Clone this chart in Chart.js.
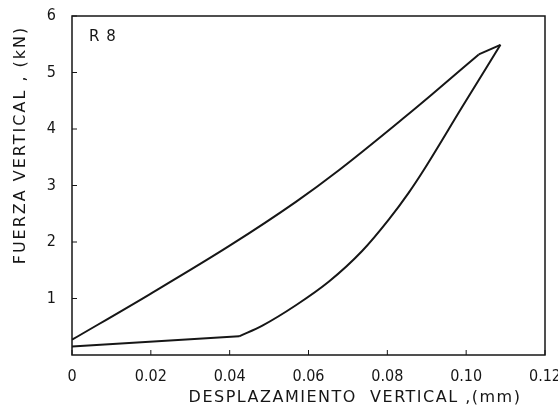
<!DOCTYPE html>
<html>
<head>
<meta charset="utf-8">
<script src="https://cdn.jsdelivr.net/npm/chart.js@4/dist/chart.umd.min.js"></script>
<style>
  html, body { margin:0; padding:0; background:#fff; }
  #wrap { width:558px; height:413px; position:relative; }
</style>
</head>
<body>
<div id="wrap"><canvas id="chart"></canvas></div>
<script>
// ---------------------------
// DATA
// ---------------------------
const xTicks = [0, 0.02, 0.04, 0.06, 0.08, 0.10, 0.12];
const yTicks = [1, 2, 3, 4, 5, 6];

// lower branch (loading): straight run up to the corner, then curved
const lowerX = [0, 0.0424, 0.0483, 0.0568, 0.0652, 0.0736, 0.0804, 0.0854, 0.0892, 0.0989, 0.1087];
const lowerY = [0.15, 0.33, 0.52, 0.88, 1.30, 1.84, 2.40, 2.87, 3.27, 4.38, 5.49];
const lowerCorner = 1;

// upper branch (unloading): curved, then short straight run to the peak
const upperX = [0, 0.0196, 0.0399, 0.0568, 0.0677, 0.0846, 0.0913, 0.1032, 0.1087];
const upperY = [0.27, 1.07, 1.93, 2.71, 3.27, 4.22, 4.61, 5.32, 5.49];
const upperCorner = 7;

const xTitle = "DESPLAZAMIENTO  VERTICAL ,(mm)";
const yTitle = "FUERZA VERTICAL , (kN)";
const tag = "R 8";

// ---------------------------
// HELPERS
// ---------------------------
const pts = (xs, ys, a, b) => xs.slice(a, b).map((x,i)=>({x, y:ys.slice(a, b)[i]}));
const INK = "#161616";
const FONT = "DejaVu Sans";
const TICK_FONT = '"DejaVu Sans Condensed", "Liberation Sans Narrow", "DejaVu Sans"';

const framePlugin = {
  id:"frame",
  afterDatasetsDraw(chart){
    const {ctx, chartArea:a, scales:{x, y}} = chart;
    ctx.save();
    ctx.strokeStyle = INK;
    ctx.lineWidth = 1.5;
    ctx.strokeRect(a.left, a.top, a.right-a.left, a.bottom-a.top);

    // inward tick marks
    ctx.lineWidth = 1;
    ctx.beginPath();
    x.ticks.forEach((t,i)=>{
      const px = x.getPixelForTick(i);
      ctx.moveTo(px, a.bottom); ctx.lineTo(px, a.bottom-5);
    });
    y.ticks.forEach((t,i)=>{
      const py = y.getPixelForTick(i);
      ctx.moveTo(a.left, py); ctx.lineTo(a.left+5, py);
    });
    ctx.stroke();

    // axis titles
    ctx.fillStyle = INK;
    ctx.font = `16px "${FONT}"`;
    ctx.letterSpacing = "1.5px";
    ctx.textAlign = "center";
    ctx.textBaseline = "middle";
    ctx.fillText(xTitle, 355, 398);

    ctx.save();
    ctx.letterSpacing = "2px";
    ctx.translate(21, 145);
    ctx.rotate(-Math.PI/2);
    ctx.fillText(yTitle, 0, 0);
    ctx.restore();

    // panel tag
    ctx.font = `15px "${FONT}"`;
    ctx.letterSpacing = "1px";
    ctx.textAlign = "left";
    ctx.fillText(tag, 89, 37);
    ctx.letterSpacing = "0px";
    ctx.restore();
  }
};

const curved = {
  showLine:true, borderColor:INK, borderWidth:2, pointRadius:0,
  cubicInterpolationMode:"monotone", fill:false
};
const straight = { ...curved, cubicInterpolationMode:"default", tension:0 };

new Chart(document.getElementById("chart"), {
  type:"scatter",
  data:{
    datasets:[
      { label:"carga", data:pts(lowerX, lowerY, 0, lowerCorner+1), ...straight },
      { label:"carga", data:pts(lowerX, lowerY, lowerCorner), ...curved },
      { label:"descarga", data:pts(upperX, upperY, 0, upperCorner+1), ...curved },
      { label:"descarga", data:pts(upperX, upperY, upperCorner), ...straight }
    ]
  },
  options:{
    responsive:true,
    maintainAspectRatio:false,
    animation:false,
    layout:{ autoPadding:false, padding:{ top:16, right:13, left:0, bottom:0 } },
    plugins:{ legend:{ display:false }, tooltip:{ enabled:false } },
    scales:{
      x:{
        type:"linear", min:0, max:0.12,
        afterBuildTicks:(s)=>{ s.ticks = xTicks.map(v=>({value:v})); },
        afterFit:(s)=>{ s.height = 58; s.paddingLeft = 0; s.paddingRight = 0; },
        grid:{ display:false }, border:{ display:false },
        ticks:{
          color:INK, padding:4, maxRotation:0,
          font:{ family:TICK_FONT, size:16 },
          callback:(v)=> v===0 ? "0" : v.toFixed(2)
        }
      },
      y:{
        type:"linear", min:0, max:6,
        afterBuildTicks:(s)=>{ s.ticks = yTicks.map(v=>({value:v})); },
        afterFit:(s)=>{ s.width = 72; s.paddingTop = 0; s.paddingBottom = 0; },
        grid:{ display:false }, border:{ display:false },
        ticks:{
          color:INK, padding:8,
          font:{ family:TICK_FONT, size:16 }
        }
      }
    }
  },
  plugins:[framePlugin]
});
</script>
</body>
</html>
